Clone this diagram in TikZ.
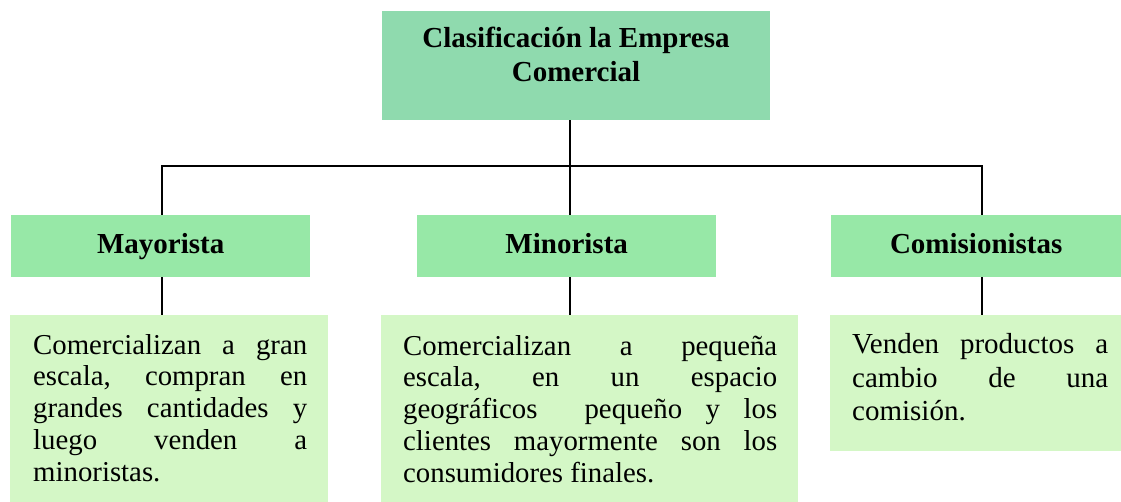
\documentclass[tikz,border=0pt]{standalone}
\usepackage{fontspec}
\setmainfont{Liberation Serif}
\definecolor{topgreen}{RGB}{143,218,174}
\definecolor{midgreen}{RGB}{151,232,167}
\definecolor{palegreen}{RGB}{212,247,198}
\newcommand{\jl}[2]{\makebox[#1][s]{#2}}
\begin{document}
\begin{tikzpicture}[x=1pt,y=-1pt,
  box/.style={anchor=north west, inner sep=0pt, draw=none},
  topbox/.style={box, fill=topgreen},
  headbox/.style={box, fill=midgreen, font=\fontsize{29}{34}\selectfont\bfseries, text height=20pt, text depth=6pt},
  descbox/.style={box, fill=palegreen},
  desctext/.style={anchor=north west, inner sep=0pt, align=left, font=\fontsize{28.8}{31.7}\selectfont\frenchspacing},
  title/.style={anchor=base, inner sep=0pt, font=\fontsize{29}{34}\selectfont\bfseries},
  conn/.style={line width=1.8pt, black}]
\useasboundingbox (0,0) rectangle (1121,502);
% boxes
\node[topbox, minimum width=388pt, minimum height=109pt] (top) at (382,11) {};
\node[title] (t1) at (576,48) {Clasificación la Empresa};
\node[title] (t2) at (576,82) {Comercial};
\node[headbox, minimum width=299pt, minimum height=62pt] (may) at (11,215) {Mayorista};
\node[headbox, minimum width=299pt, minimum height=62pt] (min) at (417,215) {Minorista};
\node[headbox, minimum width=290pt, minimum height=62pt] (com) at (831,215) {Comisionistas};
\node[descbox, minimum width=318pt, minimum height=187pt] (dmay) at (10,315) {};
\node[descbox, minimum width=417pt, minimum height=187pt] (dmin) at (381,315) {};
\node[descbox, minimum width=291pt, minimum height=136pt] (dcom) at (830,315) {};
% texts
\node[desctext] (tmay) at (33,334) {\jl{274pt}{\rule{0pt}{20pt}Comercializan a gran}\\
  \jl{274pt}{escala, compran en}\\
  \jl{274pt}{grandes cantidades y}\\
  \jl{274pt}{luego venden a}\\
  minoristas.};
\node[desctext] (tmin) at (403,335) {\jl{374pt}{\rule{0pt}{20pt}Comercializan a pequeña}\\
  \jl{374pt}{escala, en un espacio}\\
  \jl{374pt}{geográficos\ \ pequeño y los}\\
  \jl{374pt}{clientes mayormente son los}\\
  consumidores finales.};
\node[desctext, font=\fontsize{29}{33.7}\selectfont\frenchspacing] (tcom) at (852,333) {\jl{256pt}{\rule{0pt}{20pt}Venden productos a}\\
  \jl{256pt}{cambio de una}\\
  comisión.};
% connectors
\coordinate (jl) at (162,166);
\coordinate (jm) at (570,166);
\coordinate (jr) at (982,166);
\draw[conn] (top.south -| jm) -- (min.north -| jm);
\draw[conn] (may.north -| jl) -- (jl) -- (jr) -- (com.north -| jr);
\draw[conn] (may.south -| jl) -- (dmay.north -| jl);
\draw[conn] (min.south -| jm) -- (dmin.north -| jm);
\draw[conn] (com.south -| jr) -- (dcom.north -| jr);
\end{tikzpicture}
\end{document}
